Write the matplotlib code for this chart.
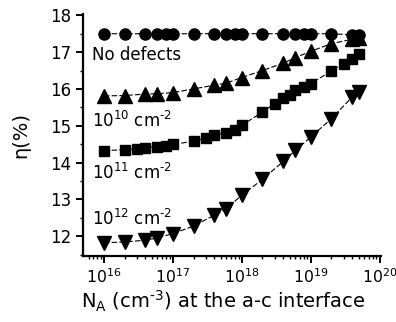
import numpy as np
import matplotlib
matplotlib.use("Agg")
import matplotlib.pyplot as plt
from matplotlib.ticker import LogLocator, MultipleLocator

plt.rcParams['font.family'] = ['DejaVu Sans']
plt.rcParams['mathtext.fontset'] = 'dejavusans'

# acceptor concentration at the a-c interface (cm^-3)
na_circ = [1e16, 2e16, 4e16, 6e16, 8e16, 1e17, 2e17, 4e17, 6e17, 8e17,
           1e18, 2e18, 4e18, 6e18, 8e18, 1e19, 2e19, 4e19, 5e19]
eff_nodef = [17.5, 17.5, 17.5, 17.5, 17.5, 17.5, 17.5, 17.5, 17.5, 17.5,
             17.5, 17.5, 17.5, 17.5, 17.5, 17.5, 17.5, 17.47, 17.46]

na_tri = [1e16, 2e16, 4e16, 6e16, 1e17, 2e17, 4e17, 6e17,
          1e18, 2e18, 4e18, 6e18, 1e19, 2e19, 4e19, 5e19]
eff_1e10 = [15.81, 15.82, 15.86, 15.87, 15.90, 16.00, 16.10, 16.16,
            16.31, 16.50, 16.70, 16.85, 17.02, 17.23, 17.35, 17.39]
eff_1e12 = [11.82, 11.84, 11.89, 11.95, 12.07, 12.27, 12.57, 12.75,
            13.11, 13.54, 14.03, 14.33, 14.69, 15.19, 15.78, 15.92]

na_sq = [1e16, 2e16, 3e16, 4e16, 6e16, 8e16, 1e17, 2e17, 3e17, 4e17, 6e17, 8e17,
         1e18, 2e18, 3e18, 4e18, 5e18, 6e18, 8e18, 1e19, 2e19, 3e19, 4e19, 5e19]
eff_1e11 = [14.32, 14.35, 14.37, 14.40, 14.43, 14.46, 14.49, 14.58, 14.66, 14.74, 14.81, 14.88,
            15.01, 15.37, 15.60, 15.74, 15.83, 15.96, 16.05, 16.14, 16.49, 16.69, 16.82, 16.94]

labels = ['No defects',
          r'$10^{10}$ cm$^{\text{-2}}$',
          r'$10^{11}$ cm$^{\text{-2}}$',
          r'$10^{12}$ cm$^{\text{-2}}$']
label_y = [16.78, 14.96, 13.54, 12.29]

fig = plt.figure(figsize=(3.96, 3.22), dpi=100)
ax = fig.add_axes([0.21, 0.205, 0.752, 0.752])

line_kw = dict(color='black', lw=0.8, linestyle=(0, (5, 2)))
ax.plot(na_circ, eff_nodef, marker='o', markersize=8, **line_kw)
ax.plot(na_tri, eff_1e10, marker='^', markersize=9.5, **line_kw)
ax.plot(na_sq, eff_1e11, marker='s', markersize=7, **line_kw)
ax.plot(na_tri, eff_1e12, marker='v', markersize=9.5, **line_kw)

ax.set_xscale('log')
ax.set_xlim(10**15.7, 10**20.02)
ax.set_ylim(11.46, 18.04)
ax.xaxis.set_major_locator(LogLocator(base=10, numticks=10))
ax.xaxis.set_minor_locator(LogLocator(base=10, subs=np.arange(2, 10), numticks=20))
ax.yaxis.set_major_locator(MultipleLocator(1))
ax.yaxis.set_minor_locator(MultipleLocator(0.5))

for s in ('top', 'right'):
    ax.spines[s].set_visible(False)
for s in ('left', 'bottom'):
    ax.spines[s].set_linewidth(1.6)
ax.tick_params(which='major', direction='out', length=5, width=1.4, labelsize=12)
ax.tick_params(axis='x', which='major', labelsize=11.3)
ax.tick_params(which='minor', direction='out', length=2.5, width=1.0)

for txt, yv in zip(labels, label_y):
    ax.text(10**15.83, yv, txt, fontsize=12, va='baseline')

ax.set_ylabel('η(%)', fontsize=14, labelpad=14)
ax.set_xlabel(r'N$_\mathregular{A}$ (cm$^{\text{-3}}$) at the a-c interface', fontsize=14, labelpad=2)
ax.xaxis.label.set_x(0.47)

fig.savefig('out.png', dpi=100)
